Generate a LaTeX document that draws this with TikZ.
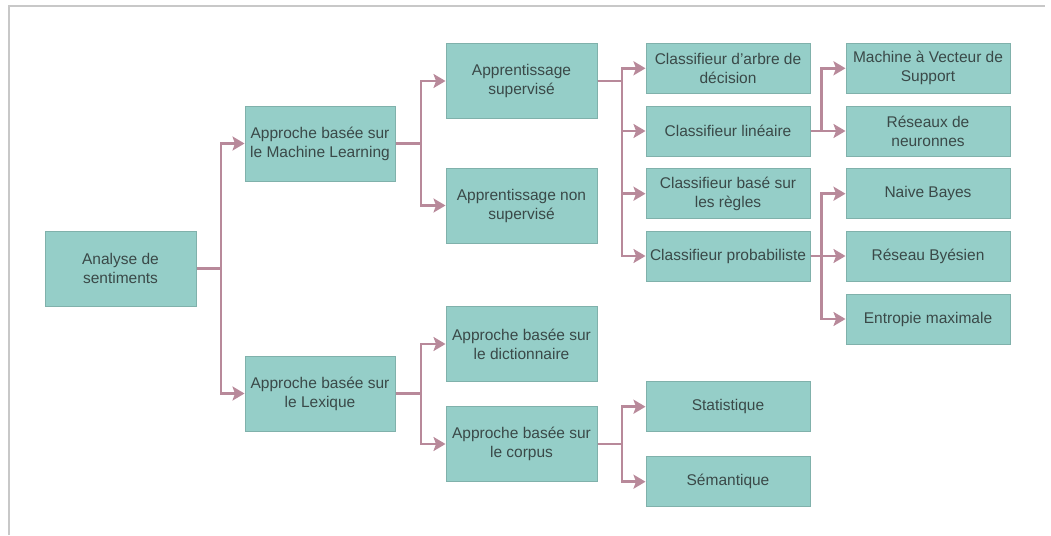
\documentclass[tikz,border=0pt]{standalone}
\usepackage{fontspec}
\setmainfont{Liberation Sans}
\usetikzlibrary{arrows.meta}
\definecolor{boxfill}{HTML}{95CEC8}
\definecolor{boxline}{HTML}{80B1AB}
\definecolor{boxtext}{HTML}{3A4948}
\definecolor{linkcol}{HTML}{B8899A}
\definecolor{framecol}{HTML}{C8C8C8}
\tikzset{
  box/.style={draw=boxline, fill=boxfill, text=boxtext, line width=1pt,
    inner sep=0pt, align=center, font=\fontsize{15.5}{19}\selectfont},
  bigbox/.style={box, minimum width=151pt, minimum height=75pt},
  smallbox/.style={box, minimum width=164pt, minimum height=50pt},
  link/.style={draw=linkcol, line width=2.6pt,
    -{Stealth[length=12pt,width=14pt,inset=2.5pt]}},
}
\begin{document}
\begin{tikzpicture}[x=1pt, y=-1pt]
\useasboundingbox (0,0) rectangle (1051,535);
% page frame
\draw[framecol, line width=2.4pt] (9,535) -- (9,6) -- (1045,6);

% level 0 and 1
\node[bigbox] (root) at (120.5,268.5) {Analyse de\\sentiments};
\node[bigbox, minimum width=150pt] (ml) at (320,143.5) {Approche basée sur\\le Machine Learning};
\node[bigbox, minimum width=150pt] (lex) at (320,393.5) {Approche basée sur\\le Lexique};

% level 2
\node[bigbox] (sup) at (521.5,81) {Apprentissage\\supervisé};
\node[bigbox] (nonsup) at (521.5,205.5) {Apprentissage non\\supervisé};
\node[bigbox] (dict) at (521.5,344) {Approche basée sur\\le dictionnaire};
\node[bigbox] (corp) at (521.5,444) {Approche basée sur\\le corpus};

% level 3
\node[smallbox] (arbre) at (728,68.3) {Classifieur d'arbre de\\décision};
\node[smallbox] (lin) at (728,131) {Classifieur linéaire};
\node[smallbox] (regl) at (728,193.7) {Classifieur basé sur\\les règles};
\node[smallbox] (prob) at (728,256) {Classifieur probabiliste};
\node[smallbox] (stat) at (728,406.7) {Statistique};
\node[smallbox] (sem) at (728,481.7) {Sémantique};

% level 4
\node[smallbox] (svm) at (928,68.3) {Machine à Vecteur de\\Support};
\node[smallbox] (rn) at (928,131) {Réseaux de\\neuronnes};
\node[smallbox] (nb) at (928,193.7) {Naive Bayes};
\node[smallbox] (rb) at (928,256) {Réseau Byésien};
\node[smallbox] (em) at (928,319) {Entropie maximale};

% connectors
\foreach \t in {ml,lex} \draw[link] (root.east) -- ++(24.5,0) |- (\t.west);
\foreach \t in {sup,nonsup} \draw[link] (ml.east) -- ++(25.5,0) |- (\t.west);
\foreach \t in {dict,corp} \draw[link] (lex.east) -- ++(25.5,0) |- (\t.west);
\foreach \t in {arbre,lin,regl,prob} \draw[link] (sup.east) -- ++(24.5,0) |- (\t.west);
\foreach \t in {stat,sem} \draw[link] (corp.east) -- ++(24.5,0) |- (\t.west);
\foreach \t in {svm,rn} \draw[link] (lin.east) -- ++(11,0) |- (\t.west);
\foreach \t in {nb,rb,em} \draw[link] (prob.east) -- ++(11,0) |- (\t.west);
\end{tikzpicture}
\end{document}
